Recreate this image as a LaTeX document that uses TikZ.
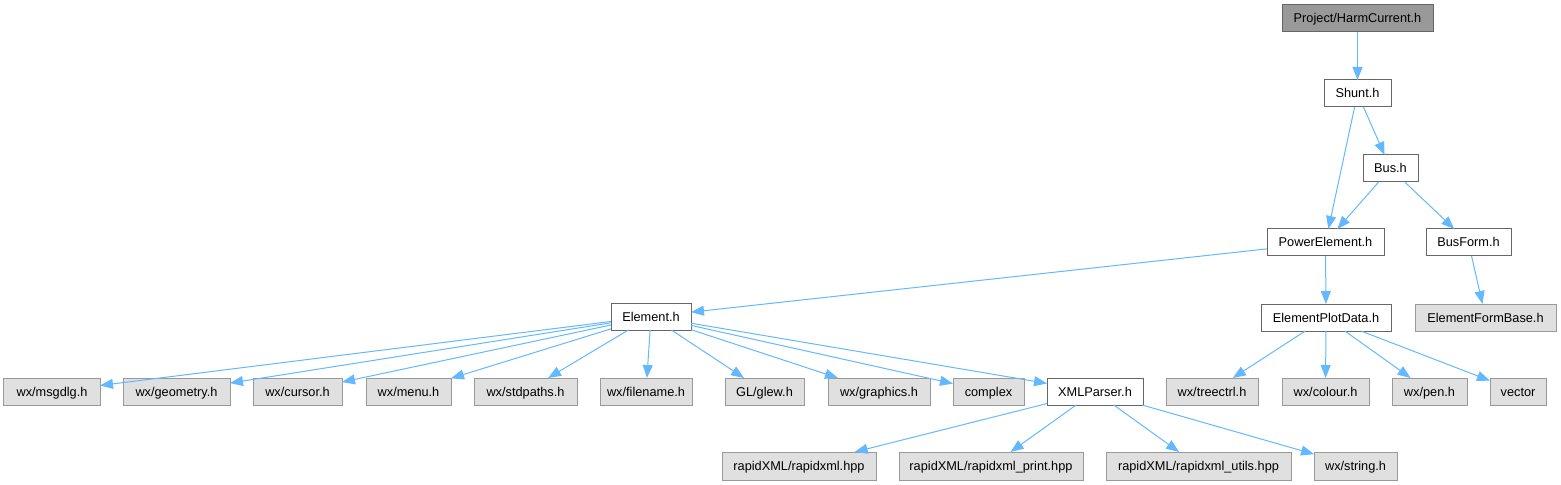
\documentclass[tikz,border=0pt]{standalone}
\usepackage{fontspec}
\setmainfont{Liberation Sans}
\usetikzlibrary{arrows.meta}
\definecolor{edgeblue}{HTML}{63B8FF}
\definecolor{rootfill}{HTML}{999999}
\definecolor{boxline}{HTML}{666666}
\definecolor{extfill}{HTML}{E0E0E0}
\definecolor{extline}{HTML}{999999}

\begin{document}
\begin{tikzpicture}[x=1bp, y=-1bp,
  % plain header box
  box/.style  = {draw=boxline, fill=white, line width=1bp,
                 minimum height=27bp, inner sep=2bp, outer sep=0,
                 text height=10.5bp, text depth=1.5bp,
                 font=\fontsize{12.8}{14}\selectfont, text=black},
  % the file the graph is drawn for
  root/.style = {box, fill=rootfill},
  % header outside the project
  ext/.style  = {box, fill=extfill, draw=extline},
  % include edge
  dep/.style  = {draw=edgeblue, line width=1bp,
                 -{Triangle[length=13bp,width=10bp]}},
]
\useasboundingbox (0,0) rectangle (1561,485);

% ──────────────────────
%  project headers
% ──────────
\node[root, minimum width=151bp] (harm)  at (1357.5,18.5)  {Project/HarmCurrent.h};
\node[box,  minimum width=67bp]  (shunt) at (1357.5,93.5)  {Shunt.h};
\node[box,  minimum width=55bp]  (bus)   at (1390.5,168.5) {Bus.h};
\node[box,  minimum width=117bp] (power) at (1325.5,242.5) {PowerElement.h};
\node[box,  minimum width=85bp]  (busf)  at (1468.5,242.5) {BusForm.h};
\node[box,  minimum width=130bp] (plot)  at (1326,317.5)   {ElementPlotData.h};
\node[ext,  minimum width=141bp] (fbase) at (1485.5,317.5) {ElementFormBase.h};
\node[box,  minimum width=80bp]  (elem)  at (651,316.5)    {Element.h};
\node[box,  minimum width=96bp]  (xml)   at (1095,391.5)   {XMLParser.h};

% ──────────────────────
%  system / library headers, third rank
% ──────────
\foreach \n/\x/\w/\t in {msg/52/96/{wx/msgdlg.h},
                          geo/176.5/107/{wx/geometry.h},
                          cur/297.5/89/{wx/cursor.h},
                          menu/408.5/85/{wx/menu.h},
                          std/525.5/103/{wx/stdpaths.h},
                          fname/646/92/{wx/filename.h},
                          glew/764.5/79/{GL/glew.h},
                          gfx/879/102/{wx/graphics.h},
                          cplx/988.5/71/{complex},
                          tree/1212/92/{wx/treectrl.h},
                          col/1325.5/87/{wx/colour.h},
                          pen/1429.5/75/{wx/pen.h},
                          vec/1518/56/{vector}}
  \node[ext, minimum width=\w bp] (\n) at (\x,391.5) {\t};

% rapidXML and friends, bottom rank
\foreach \n/\x/\w/\t in {rx/799/154/{rapidXML/rapidxml.hpp},
                          rxp/991/184/{rapidXML/rapidxml\_print.hpp},
                          rxu/1198.5/185/{rapidXML/rapidxml\_utils.hpp},
                          str/1355.5/83/{wx/string.h}}
  \node[ext, minimum width=\w bp, minimum height=28bp] (\n) at (\x,466) {\t};

% ──────────────────────
%  include edges
% ──────────
\draw[dep] (harm)  -- (shunt);
\draw[dep] (shunt) -- (power);
\draw[dep] (shunt) -- (bus);
\draw[dep] (bus)   -- (power);
\draw[dep] (bus)   -- (busf);
\draw[dep] (busf)  -- (fbase);
\draw[dep] (power) -- (elem);
\draw[dep] (power) -- (plot);

\foreach \t in {msg,geo,cur,menu,std,fname,glew,gfx,cplx,xml}
  \draw[dep] (elem) -- (\t);

\foreach \t in {tree,col,pen,vec}
  \draw[dep] (plot) -- (\t);

\foreach \t in {rx,rxp,rxu,str}
  \draw[dep] (xml) -- (\t);

\end{tikzpicture}
\end{document}
